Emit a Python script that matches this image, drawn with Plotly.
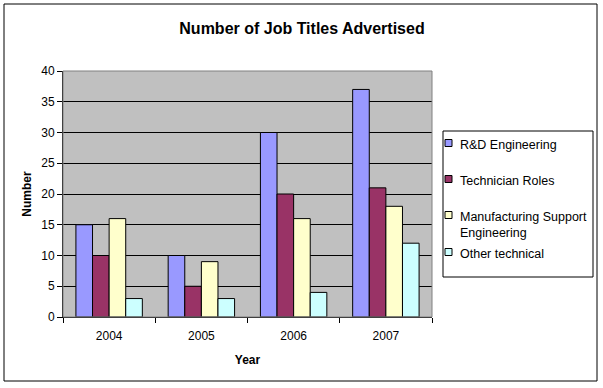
import plotly.graph_objects as go

years = ["2004", "2005", "2006", "2007"]
rd_engineering = [15, 10, 30, 37]
technician_roles = [10, 5, 20, 21]
manufacturing_support = [16, 9, 16, 18]
other_technical = [3, 3, 4, 12]

series_names = ["R&D Engineering", "Technician Roles",
                "Manufacturing Support<br>Engineering", "Other technical"]
series_values = [rd_engineering, technician_roles, manufacturing_support, other_technical]
colors = ["#9999FF", "#993366", "#FFFFCC", "#CCFFFF"]

W, H = 603, 388
L, R, T, B = 63, 171, 71, 71
pw = W - L - R
ph = H - T - B


def px(x):
    return (x - L) / pw


def py(y):
    return (H - B - y) / ph


fig = go.Figure()
for name, vals, c in zip(series_names, series_values, colors):
    fig.add_trace(go.Bar(x=years, y=vals, name=name.replace("<br>", " "),
                         marker=dict(color=c, line=dict(color="black", width=1))))

shapes = [
    # outer chart border
    dict(type="rect", xref="paper", yref="paper", x0=px(4), x1=px(597), y0=py(381), y1=py(4),
         line=dict(color="black", width=1), fillcolor="rgba(0,0,0,0)", layer="below"),
    # plot area border
    dict(type="rect", xref="paper", yref="paper", x0=0, x1=1, y0=0, y1=1,
         line=dict(color="#808080", width=1), fillcolor="rgba(0,0,0,0)"),
    # legend box
    dict(type="rect", xref="paper", yref="paper", x0=px(443), x1=px(593), y0=py(277), y1=py(131),
         line=dict(color="black", width=1), fillcolor="white", layer="above"),
]
annotations = []
legend_rows = [143, 179, 215, 252]
for name, c, ry in zip(series_names, colors, legend_rows):
    shapes.append(dict(type="rect", xref="paper", yref="paper",
                       x0=px(445), x1=px(452), y0=py(ry + 3.5), y1=py(ry - 3.5),
                       line=dict(color="black", width=1), fillcolor=c, layer="above"))
    annotations.append(dict(text=name, xref="paper", yref="paper", x=px(458), y=py(ry - 7.5),
                            xanchor="left", yanchor="top", showarrow=False, align="left",
                            font=dict(size=12.5, color="black")))

fig.update_layout(
    width=W, height=H,
    margin=dict(l=L, r=R, t=T, b=B),
    paper_bgcolor="white",
    plot_bgcolor="#C0C0C0",
    font=dict(family="Liberation Sans, Arial", size=12, color="black"),
    title=dict(text="<b>Number of Job Titles Advertised</b>", x=(302 - L) / pw, xref="paper",
               xanchor="center", y=1 - 28 / H, yanchor="middle", font=dict(size=16)),
    barmode="group", bargap=0.28, bargroupgap=0,
    showlegend=False,
    xaxis=dict(title=dict(text="<b>Year</b>", standoff=13, font=dict(size=12)),
               showline=True, linecolor="black", linewidth=1,
               ticks="outside", ticklen=5, tickcolor="black", tickson="boundaries",
               ticklabelstandoff=8, showgrid=False),
    yaxis=dict(title=dict(text="<b>Number</b>", standoff=7, font=dict(size=12)),
               range=[0, 40], dtick=5, showline=True, linecolor="black", linewidth=1,
               ticks="outside", ticklen=5, tickcolor="black",
               showgrid=True, gridcolor="black", gridwidth=1, zeroline=False),
    shapes=shapes,
    annotations=annotations,
)

fig.write_html("out.html", config={"displayModeBar": False},
               post_script="document.body.style.margin='0';document.body.style.overflow='hidden';")
